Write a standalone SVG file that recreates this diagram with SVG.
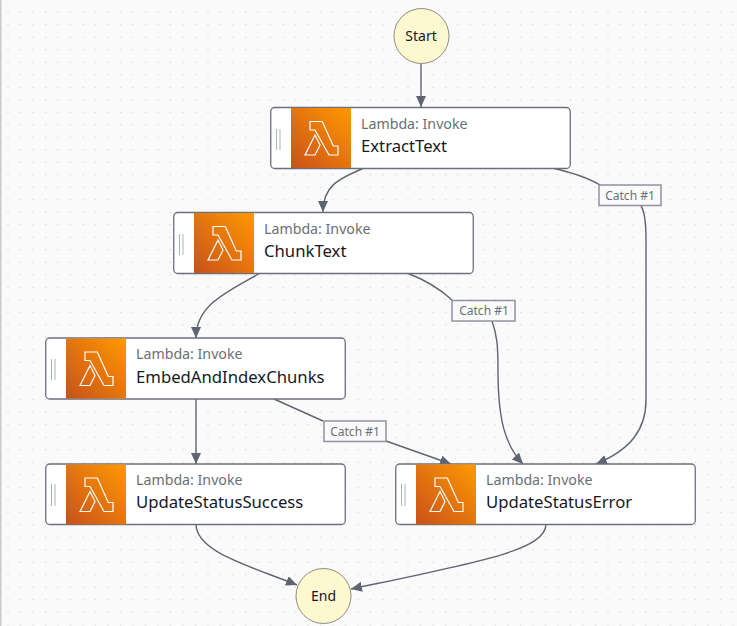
<svg xmlns="http://www.w3.org/2000/svg" width="737" height="626" viewBox="0 0 737 626">
<style>
.bg{fill:#fafafa}
.box{fill:#fff;stroke:#6b717b;stroke-width:1.3}
.grip{stroke:#aab7b8;stroke-width:1;fill:none}
.lam{fill:none;stroke:#fff;stroke-width:1.2}
.sub{font:14.2px "Noto Sans","Open Sans",sans-serif;fill:#687078}
.name{font:16.7px "Noto Sans","Open Sans",sans-serif;fill:#16191f}
.term{fill:#fdf8cf;stroke:#8d8d84;stroke-width:1}
.tt{font:14px "Noto Sans","Open Sans",sans-serif;fill:#16191f;text-anchor:middle}
.edge{fill:none;stroke:#5f6570;stroke-width:1.4;marker-end:url(#a)}
.edge2{fill:none;stroke:#5f6570;stroke-width:1.4}
.lb{fill:#fafafa;stroke:#8f949c;stroke-width:1.5}
.lt{font:12px "Noto Sans","Open Sans",sans-serif;fill:#687078;text-anchor:middle}
</style>
<defs>
<pattern id="d" width="12.5" height="12.5" patternUnits="userSpaceOnUse" x="1.75" y="0.25"><rect x="5.5" y="11.5" width="1.5" height="1.5" fill="#d2d2d2"/></pattern>
<linearGradient id="g" x1="0" y1="1" x2="1" y2="0"><stop offset="0" stop-color="#c8511b"/><stop offset="1" stop-color="#f90"/></linearGradient>
<marker id="a" markerUnits="userSpaceOnUse" markerWidth="12" markerHeight="12" refX="11" refY="5" orient="auto"><path d="M0 0L11 5L0 10Z" fill="#5f6570"/></marker>
<g id="icon">
<rect width="60" height="60" fill="url(#g)"/>
<path class="lam" d="M19 13.500H31.300L42.300 38H47V47H38L24 22H19Z M14 47L24 27L29 37L24 47Z"/>
</g>
</defs>
<rect class="bg" width="737" height="626"/>
<rect width="737" height="626" fill="url(#d)"/>
<rect x="0" y="0" width="1.500" height="626" fill="#c9c9d2"/>

<g id="connectors">
<path class="edge" d="M421 64V107"/>
<path class="edge" d="M364 168C338 179 323 186 323 212"/>
<path class="edge2" d="M552 168C570 172 585 176 600 185"/>
<path class="edge" d="M641 206C645 212 646 222 646 240V400C646 430 630 450 596 464"/>
<path class="edge" d="M260 273C228 292 196 304 196 338"/>
<path class="edge2" d="M407 273C423 279 438 287 452 300"/>
<path class="edge" d="M492 321C497 335 498 345 498 370C498 420 505 445 523 464"/>
<path class="edge" d="M196 399V464"/>
<path class="edge2" d="M274 399L323 421"/>
<path class="edge" d="M386 441L451 464"/>
<path class="edge" d="M196 524C196 552 250 566 297 585"/>
<path class="edge" d="M546 524C546 550 480 562 351 589"/>
</g>

<g id="catch-extract"><rect class="lb" x="599" y="185" width="62" height="20.500"/><text class="lt" x="630" y="200">Catch #1</text></g>
<g id="catch-chunk"><rect class="lb" x="452" y="300.500" width="63" height="20.500"/><text class="lt" x="484" y="315">Catch #1</text></g>
<g id="catch-embed"><rect class="lb" x="324" y="421" width="62" height="20.500"/><text class="lt" x="355" y="436">Catch #1</text></g>

<g id="start"><circle class="term" cx="421.500" cy="36" r="27.500"/><text class="tt" x="421" y="41">Start</text></g>

<g id="extract-text"><rect class="box" x="270.750" y="107.500" width="299.500" height="61" rx="4"/><path class="grip" d="M276.500 129V150M280 129V150"/><use href="#icon" x="291" y="108"/><text class="sub" x="361" y="129">Lambda: Invoke</text><text class="name" x="361" y="152">ExtractText</text></g>

<g id="chunk-text"><rect class="box" x="173.750" y="212.500" width="299.500" height="61" rx="4"/><path class="grip" d="M179.500 234V255M183 234V255"/><use href="#icon" x="194" y="213"/><text class="sub" x="264" y="234">Lambda: Invoke</text><text class="name" x="264" y="257">ChunkText</text></g>

<g id="embed"><rect class="box" x="45.750" y="338" width="299.500" height="61" rx="4"/><path class="grip" d="M51.500 359V380M55 359V380"/><use href="#icon" x="66" y="338.500"/><text class="sub" x="136" y="359">Lambda: Invoke</text><text class="name" x="136" y="382.500">EmbedAndIndexChunks</text></g>

<g id="success"><rect class="box" x="45.750" y="464" width="299.500" height="60.500" rx="4"/><path class="grip" d="M51.500 484V506M55 484V506"/><use href="#icon" x="66" y="464.500"/><text class="sub" x="136" y="485">Lambda: Invoke</text><text class="name" x="136" y="508">UpdateStatusSuccess</text></g>

<g id="error"><rect class="box" x="395.750" y="464" width="299.500" height="60.500" rx="4"/><path class="grip" d="M401.500 484V506M405 484V506"/><use href="#icon" x="416" y="464.500"/><text class="sub" x="486" y="485">Lambda: Invoke</text><text class="name" x="486" y="508">UpdateStatusError</text></g>

<g id="end"><circle class="term" cx="323.500" cy="596" r="27.500"/><text class="tt" x="323.500" y="601">End</text></g>
</svg>
